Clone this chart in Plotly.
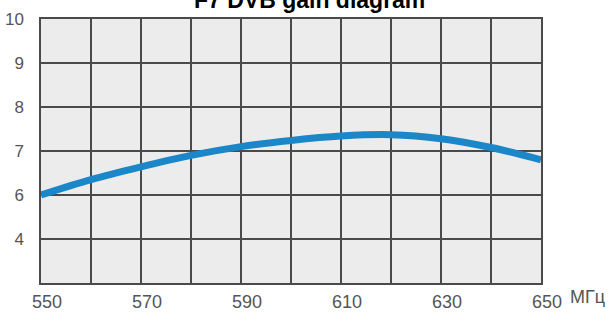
import plotly.graph_objects as go

freq = [550, 560, 570, 580, 590, 600, 610, 620, 630, 640, 650]
gain = [6.0, 6.35, 6.64, 6.9, 7.1, 7.24, 7.34, 7.37, 7.28, 7.08, 6.8]

x_tickvals = [550, 560, 570, 580, 590, 600, 610, 620, 630, 640, 650]
x_ticktext = ["550", "", "570", "", "590", "", "610", "", "630", "", "650"]
y_tickvals = [4, 5, 6, 7, 8, 9, 10]
y_ticktext = ["", "4", "6", "7", "8", "9", "10"]

title = "F7 DVB gain diagram"
unit = "МГц"

grid = "#4a4a4a"
lab = "#555555"

fig = go.Figure()
fig.add_trace(go.Scatter(
    x=freq, y=gain, mode="lines",
    line=dict(color="#1b86c8", width=7, shape="spline", smoothing=1.0),
    hoverinfo="skip",
))

fig.update_layout(
    width=609, height=313,
    margin=dict(l=41, r=68, t=19, b=30, autoexpand=False),
    paper_bgcolor="white", plot_bgcolor="#ececec",
    showlegend=False,
    font=dict(family="Liberation Sans, Arial, sans-serif", color=lab),
    xaxis=dict(
        range=[550, 650], tickvals=x_tickvals, ticktext=x_ticktext,
        showgrid=True, gridcolor=grid, gridwidth=1.5,
        showline=True, linecolor=grid, linewidth=1.5, mirror=True,
        zeroline=False, ticks="", ticklabelstandoff=2, ticklabelshift=6,
        tickfont=dict(size=18, color=lab), automargin=False,
    ),
    yaxis=dict(
        range=[4, 10], tickvals=y_tickvals, ticktext=y_ticktext,
        showgrid=True, gridcolor=grid, gridwidth=1.5,
        showline=True, linecolor=grid, linewidth=1.5, mirror=True,
        zeroline=False, ticks="", ticklabelstandoff=12,
        tickfont=dict(size=17, color=lab), automargin=False,
    ),
    annotations=[
        dict(text="<b>" + title + "</b>", xref="paper", yref="paper", x=0.536, y=1,
             xanchor="center", yanchor="bottom", yshift=4, showarrow=False,
             font=dict(size=23, color="black", family="Liberation Sans, Arial, sans-serif"),
             ),
        dict(text=unit, xref="x", yref="paper", x=650, y=0,
             xanchor="left", yanchor="top", xshift=27, yshift=-2, showarrow=False,
             font=dict(size=18, color=lab)),
    ],
)

fig.write_html("out.html", config={"displayModeBar": False},
               post_script="document.body.style.margin='0px';document.body.style.overflow='hidden';")
